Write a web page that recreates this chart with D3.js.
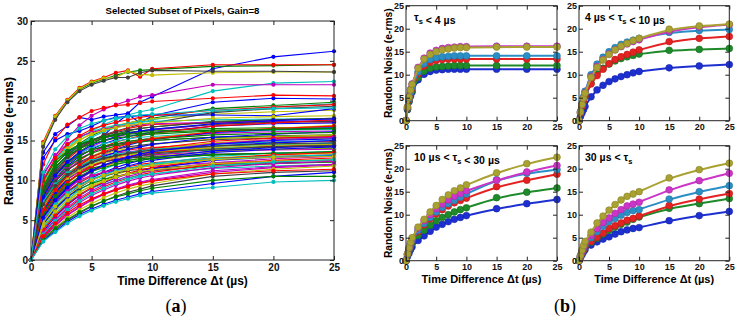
<!DOCTYPE html>
<html>
<head>
<meta charset="utf-8">
<script src="https://cdn.jsdelivr.net/npm/d3@7"></script>
<style>
  body { margin: 0; background: #fff; }
  svg { display: block; font-family: "Liberation Sans", Arial, sans-serif; }
</style>
</head>
<body>
<div class="canvas"></div>
<script>
// time steps (µs) for panel (a)
const tPixels = [0, 1, 2, 3, 4, 5, 6, 7, 8, 9, 10, 15, 20, 25];

// random noise per pixel, panel (a)
const pixelNoise = [
  [0, 13.5, 15.8, 16.8, 17.9, 17.6, 18.0, 18.2, 18.4, 19.8, 20.5, 24.0, 25.5, 26.2],
  [0, 14.5, 17.9, 20.0, 21.4, 22.2, 22.7, 23.2, 23.6, 23.8, 23.9, 24.3, 24.4, 24.5],
  [0, 14.8, 18.1, 20.1, 21.6, 22.4, 22.9, 23.5, 23.8, 23.0, 24.0, 24.5, 24.5, 24.5],
  [0, 10.2, 12.5, 14.0, 15.3, 16.2, 17.0, 17.6, 18.2, 18.6, 18.9, 21.2, 22.2, 22.4],
  [0, 10.8, 13.0, 15.2, 16.9, 18.1, 18.9, 19.5, 20.0, 20.5, 20.7, 22.0, 22.0, 22.0],
  [0, 14.6, 18.0, 20.0, 21.5, 22.3, 22.8, 22.9, 23.7, 23.3, 23.2, 23.5, 23.6, 23.6],
  [0, 14.2, 17.6, 19.8, 21.2, 22.0, 22.5, 22.9, 22.9, 23.5, 23.8, 23.7, 23.7, 23.6],
  [0, 9.5, 12.0, 13.5, 14.5, 15.0, 15.6, 17.1, 18.3, 17.2, 18.1, 19.8, 20.3, 20.2],
  [0, 9.0, 11.5, 13.2, 14.6, 15.6, 16.3, 16.8, 17.2, 17.5, 17.8, 19.0, 19.4, 19.8],
  [0, 12.0, 15.2, 17.0, 17.9, 18.7, 19.1, 19.4, 19.5, 19.7, 19.9, 20.3, 20.7, 20.6],
  [0, 8.8, 11.2, 13.0, 14.4, 15.4, 16.1, 16.6, 17.0, 17.3, 17.6, 18.6, 19.2, 19.6],
  [0, 7.8, 10.2, 12.0, 13.3, 14.2, 14.9, 15.4, 15.8, 16.1, 16.3, 17.0, 17.3, 17.5],
  [0, 8.9, 11.9, 13.8, 15.0, 15.9, 16.5, 16.9, 17.2, 17.5, 17.7, 18.3, 18.6, 18.8],
  [0, 8.5, 11.0, 12.8, 14.1, 15.0, 15.7, 16.2, 16.6, 17.0, 17.2, 18.5, 19.0, 19.3],
  [0, 12.8, 15.0, 15.8, 16.2, 16.8, 17.5, 17.9, 18.0, 18.1, 18.2, 18.2, 18.1, 19.0],
  [0, 8.0, 10.5, 12.3, 13.6, 14.6, 15.3, 15.8, 16.2, 16.5, 16.7, 17.4, 17.6, 17.8],
  [0, 8.2, 10.8, 12.6, 13.9, 14.9, 15.6, 16.1, 16.5, 16.8, 17.0, 17.2, 17.4, 17.3],
  [0, 9.8, 12.6, 14.3, 15.4, 16.1, 16.6, 16.9, 17.1, 17.3, 17.4, 17.6, 17.7, 17.7],
  [0, 10.5, 13.2, 14.6, 15.5, 16.0, 16.4, 16.7, 16.9, 17.0, 17.1, 17.3, 17.4, 17.4],
  [0, 9.4, 12.3, 14.0, 15.1, 15.8, 16.3, 16.6, 16.9, 17.1, 17.2, 17.8, 18.0, 18.1],
  [0, 8.6, 11.3, 12.9, 14.0, 14.8, 15.3, 15.7, 16.0, 16.2, 16.4, 17.0, 17.3, 17.4],
  [0, 7.5, 10.0, 11.8, 13.0, 13.9, 14.6, 15.1, 15.5, 15.8, 16.0, 16.8, 17.1, 17.2],
  [0, 9.2, 12.0, 13.6, 14.5, 15.1, 15.5, 15.8, 16.0, 16.1, 16.2, 16.5, 16.6, 16.7],
  [0, 6.8, 9.4, 11.2, 12.5, 13.5, 14.2, 14.8, 15.2, 15.6, 15.9, 16.8, 17.2, 17.6],
  [0, 8.0, 10.8, 12.4, 13.4, 14.1, 14.6, 14.9, 15.2, 15.4, 15.5, 16.0, 16.3, 16.4],
  [0, 7.2, 9.8, 11.5, 12.7, 13.5, 14.1, 14.5, 14.8, 15.1, 15.3, 15.9, 16.1, 16.2],
  [0, 6.4, 8.9, 10.7, 12.0, 13.0, 13.7, 14.3, 14.7, 15.0, 15.3, 16.1, 16.5, 16.9],
  [0, 8.3, 10.9, 12.3, 13.2, 13.8, 14.2, 14.5, 14.7, 14.9, 15.0, 15.4, 15.6, 15.7],
  [0, 5.9, 8.3, 10.1, 11.5, 12.5, 13.3, 13.9, 14.4, 14.8, 15.1, 16.0, 16.4, 16.6],
  [0, 7.7, 10.2, 11.7, 12.7, 13.4, 13.9, 14.3, 14.6, 14.8, 15.0, 15.4, 15.5, 15.6],
  [0, 7.0, 9.4, 10.9, 11.9, 12.6, 13.1, 13.5, 13.8, 14.0, 14.1, 14.6, 14.8, 14.9],
  [0, 6.2, 8.6, 10.2, 11.3, 12.1, 12.7, 13.1, 13.4, 13.7, 13.9, 14.5, 14.8, 15.0],
  [0, 7.9, 10.1, 11.4, 12.2, 12.8, 13.2, 13.4, 13.6, 13.7, 13.8, 14.1, 14.2, 14.3],
  [0, 5.6, 7.9, 9.6, 10.8, 11.7, 12.4, 12.9, 13.3, 13.6, 13.9, 14.7, 15.1, 15.3],
  [0, 6.7, 9.0, 10.5, 11.5, 12.2, 12.7, 13.0, 13.3, 13.5, 13.6, 14.0, 14.2, 14.3],
  [0, 5.2, 7.4, 9.0, 10.2, 11.1, 11.8, 12.3, 12.7, 13.1, 13.4, 14.3, 14.7, 15.0],
  [0, 7.4, 9.6, 10.9, 11.8, 12.4, 12.8, 13.1, 13.3, 13.4, 13.5, 13.8, 13.9, 14.0],
  [0, 6.0, 8.2, 9.8, 10.9, 11.7, 12.3, 12.7, 13.0, 13.3, 13.5, 14.0, 14.3, 14.5],
  [0, 4.8, 6.9, 8.5, 9.8, 10.7, 11.4, 12.0, 12.5, 12.8, 13.1, 14.0, 14.4, 14.7],
  [0, 6.5, 8.7, 10.1, 11.1, 11.8, 12.3, 12.6, 12.9, 13.1, 13.2, 13.6, 13.8, 13.9],
  [0, 5.4, 7.6, 9.2, 10.3, 11.1, 11.7, 12.2, 12.5, 12.8, 13.0, 13.6, 13.9, 14.1],
  [0, 7.1, 9.1, 10.4, 11.3, 11.9, 12.3, 12.6, 12.8, 12.9, 13.0, 13.3, 13.4, 13.5],
  [0, 4.5, 6.5, 8.1, 9.3, 10.3, 11.0, 11.6, 12.1, 12.5, 12.8, 13.7, 14.1, 14.4],
  [0, 6.3, 8.4, 9.8, 10.8, 11.5, 11.9, 12.3, 12.5, 12.7, 12.8, 13.2, 13.4, 13.5],
  [0, 5.0, 7.1, 8.6, 9.7, 10.5, 11.0, 11.4, 11.7, 12.0, 12.2, 12.8, 13.0, 13.2],
  [0, 4.2, 6.1, 7.6, 8.8, 9.7, 10.4, 11.0, 11.4, 11.8, 12.1, 13.0, 13.4, 13.6],
  [0, 5.8, 7.8, 9.1, 10.0, 10.6, 11.0, 11.3, 11.5, 11.7, 11.8, 12.2, 12.4, 12.5],
  [0, 3.9, 5.8, 7.3, 8.5, 9.4, 10.1, 10.7, 11.2, 11.6, 11.9, 12.8, 13.2, 13.4],
  [0, 5.3, 7.3, 8.6, 9.5, 10.1, 10.6, 10.9, 11.2, 11.4, 11.5, 12.0, 12.2, 12.3],
  [0, 3.6, 5.4, 6.9, 8.1, 9.0, 9.7, 10.3, 10.8, 11.2, 11.5, 12.5, 12.9, 13.1],
  [0, 4.6, 6.5, 7.9, 8.9, 9.6, 10.1, 10.5, 10.8, 11.0, 11.2, 11.8, 12.1, 12.3],
  [0, 3.3, 5.0, 6.4, 7.6, 8.5, 9.2, 9.8, 10.3, 10.7, 11.0, 12.0, 12.5, 12.8],
  [0, 4.0, 5.8, 7.2, 8.2, 9.0, 9.5, 10.0, 10.3, 10.6, 10.8, 11.5, 11.8, 12.0],
  [0, 3.1, 4.7, 6.1, 7.2, 8.1, 8.8, 9.4, 9.9, 10.3, 10.6, 11.6, 12.1, 12.4],
  [0, 6.9, 9.2, 10.8, 11.9, 12.7, 13.3, 13.7, 14.0, 14.3, 14.5, 15.2, 15.5, 15.7],
  [0, 7.6, 9.9, 11.3, 12.3, 13.0, 13.5, 13.9, 14.2, 14.4, 14.6, 15.1, 15.3, 15.4],
  [0, 6.1, 8.5, 10.2, 11.4, 12.3, 13.0, 13.5, 13.9, 14.2, 14.5, 15.4, 15.8, 16.1],
  [0, 8.1, 10.6, 12.1, 13.1, 13.8, 14.3, 14.6, 14.9, 15.1, 15.2, 15.7, 15.9, 16.0],
  [0, 5.7, 8.0, 9.7, 10.9, 11.8, 12.5, 13.0, 13.4, 13.8, 14.0, 14.9, 15.3, 15.5],
  [0, 7.3, 9.5, 10.9, 11.8, 12.5, 12.9, 13.3, 13.5, 13.7, 13.9, 14.3, 14.5, 14.6],
  [0, 4.9, 7.1, 8.8, 10.1, 11.1, 11.8, 12.4, 12.9, 13.3, 13.6, 14.6, 15.1, 15.4],
  [0, 6.6, 8.8, 10.3, 11.3, 12.0, 12.5, 12.9, 13.2, 13.4, 13.6, 14.1, 14.4, 14.5],
  [0, 5.5, 7.7, 9.3, 10.5, 11.3, 11.9, 12.4, 12.8, 13.1, 13.3, 13.9, 14.2, 14.4],
  [0, 4.4, 6.4, 7.9, 9.1, 10.0, 10.7, 11.3, 11.8, 12.2, 12.5, 13.5, 13.9, 14.2],
  [0, 6.0, 8.0, 9.4, 10.4, 11.1, 11.6, 12.0, 12.3, 12.5, 12.7, 13.2, 13.4, 13.6],
  [0, 3.8, 5.6, 7.0, 8.2, 9.1, 9.8, 10.4, 10.9, 11.3, 11.6, 12.7, 13.2, 13.5],
  [0, 5.1, 7.0, 8.4, 9.4, 10.2, 10.7, 11.2, 11.5, 11.8, 12.0, 12.7, 13.0, 13.2],
  [0, 3.4, 5.1, 6.6, 7.8, 8.7, 9.4, 10.0, 10.5, 10.9, 11.2, 12.2, 12.7, 13.0],
  [0, 4.3, 6.1, 7.5, 8.5, 9.3, 9.9, 10.4, 10.8, 11.1, 11.3, 12.1, 12.4, 12.6],
  [0, 8.8, 11.6, 13.2, 14.3, 15.0, 15.6, 16.0, 16.3, 16.5, 16.7, 17.3, 17.6, 17.8],
  [0, 7.9, 10.6, 12.3, 13.5, 14.4, 15.0, 15.5, 15.9, 16.2, 16.4, 17.1, 17.5, 17.7],
  [0, 9.9, 12.4, 13.7, 14.5, 15.0, 15.4, 15.6, 15.8, 15.9, 16.0, 16.3, 16.4, 16.5],
  [0, 6.3, 8.8, 10.6, 11.9, 12.9, 13.6, 14.1, 14.6, 14.9, 15.2, 16.1, 16.5, 16.8],
  [0, 3.2, 4.9, 6.3, 7.4, 8.3, 9.0, 9.6, 10.1, 10.5, 10.8, 11.8, 12.3, 12.6],
  [0, 2.8, 4.3, 5.6, 6.6, 7.5, 8.2, 8.8, 9.3, 9.7, 10.0, 11.0, 11.6, 11.9],
  [0, 4.7, 6.7, 8.1, 9.2, 10.0, 10.6, 11.0, 11.4, 11.7, 11.9, 12.6, 12.9, 13.0],
  [0, 7.0, 9.3, 10.7, 11.6, 12.3, 12.8, 13.1, 13.4, 13.6, 13.8, 14.3, 14.6, 14.7],
  [0, 5.3, 7.5, 9.1, 10.3, 11.2, 11.9, 12.5, 12.9, 13.3, 13.6, 14.5, 15.0, 15.2],
  [0, 9.1, 11.7, 13.1, 14.0, 14.6, 15.0, 15.3, 15.5, 15.7, 15.8, 16.2, 16.4, 16.5],
  [0, 10.0, 12.8, 14.5, 15.6, 16.4, 16.9, 17.3, 17.6, 17.9, 18.1, 18.8, 19.2, 19.5],
  [0, 11.0, 13.9, 15.5, 16.5, 17.1, 17.5, 17.8, 18.0, 18.2, 18.3, 18.8, 19.0, 19.1],
  [0, 2.9, 4.4, 5.7, 6.7, 7.6, 8.3, 8.9, 9.4, 9.8, 10.1, 11.2, 11.7, 12.0],
  [0, 2.6, 4.1, 5.3, 6.3, 7.1, 7.8, 8.4, 8.9, 9.3, 9.6, 10.8, 11.4, 11.8],
  [0, 2.5, 3.8, 5.0, 5.9, 6.7, 7.4, 8.0, 8.5, 8.9, 9.3, 10.5, 11.0, 11.2],
  [0, 2.4, 3.6, 4.8, 5.7, 6.4, 7.0, 7.5, 7.9, 8.3, 8.6, 9.6, 10.5, 11.0],
  [0, 2.7, 4.0, 5.1, 6.0, 6.8, 7.4, 7.9, 8.3, 8.7, 9.0, 10.0, 10.5, 10.5],
  [0, 3.0, 4.6, 5.9, 6.9, 7.7, 8.3, 8.8, 9.2, 9.6, 9.9, 10.8, 11.2, 11.4],
  [0, 2.3, 3.5, 4.6, 5.5, 6.2, 6.8, 7.3, 7.7, 8.1, 8.4, 9.1, 9.8, 10.0]
];

// time steps (µs) for panel (b)
const tGroups = [0, 0.25, 0.5, 0.75, 1, 2, 3, 4, 5, 6, 7, 8, 9, 10, 15, 20, 25];

// groups by settling time, series order: blue, green, red, cyan, magenta, olive
const tauUnder4 = [
  [0, 2.4, 4.1, 5.3, 6.2, 8.9, 10.1, 10.7, 11.0, 11.1, 11.2, 11.2, 11.2, 11.2, 11.2, 11.2, 11.2],
  [0, 2.5, 4.3, 5.6, 6.5, 9.4, 10.8, 11.4, 11.7, 11.8, 11.9, 12.0, 12.0, 12.0, 12.0, 12.0, 12.0],
  [0, 2.7, 4.6, 6.0, 7.0, 10.2, 11.9, 12.7, 13.1, 13.3, 13.4, 13.4, 13.4, 13.4, 13.4, 13.4, 13.4],
  [0, 2.8, 4.8, 6.2, 7.3, 10.6, 12.4, 13.3, 13.7, 13.9, 14.0, 14.1, 14.1, 14.1, 14.1, 14.1, 14.1],
  [0, 3.0, 5.2, 6.8, 8.0, 11.6, 13.6, 14.7, 15.3, 15.7, 15.9, 16.0, 16.1, 16.1, 16.2, 16.2, 16.2],
  [0, 3.0, 5.1, 6.7, 7.9, 11.4, 13.4, 14.4, 15.0, 15.4, 15.6, 15.8, 15.9, 15.9, 16.0, 16.0, 16.0]
];
const tau4to10 = [
  [0, 0.9, 1.7, 2.4, 3.1, 5.2, 6.7, 7.7, 8.5, 9.1, 9.6, 10.0, 10.4, 10.7, 11.5, 11.9, 12.2],
  [0, 1.6, 3.0, 4.2, 5.2, 8.2, 10.1, 11.4, 12.3, 13.0, 13.5, 13.9, 14.2, 14.5, 15.3, 15.5, 15.7],
  [0, 1.7, 3.1, 4.3, 5.3, 8.0, 9.8, 11.2, 12.4, 13.3, 13.9, 14.4, 14.9, 15.4, 17.2, 17.9, 18.3],
  [0, 2.0, 3.7, 5.2, 6.4, 10.0, 12.3, 13.8, 15.0, 15.9, 16.6, 17.1, 17.5, 17.9, 19.2, 19.6, 19.8],
  [0, 1.9, 3.5, 4.9, 6.1, 9.6, 11.8, 13.3, 14.5, 15.4, 16.1, 16.7, 17.2, 17.6, 19.5, 20.4, 20.9],
  [0, 1.9, 3.5, 4.9, 6.0, 9.4, 11.6, 13.2, 14.4, 15.4, 16.2, 16.8, 17.4, 17.9, 19.9, 20.6, 21.0]
];
const tau10to30 = [
  [0, 0.9, 1.6, 2.4, 3.0, 4.4, 5.4, 6.4, 7.3, 7.9, 8.5, 9.0, 9.4, 9.8, 11.3, 12.4, 13.3],
  [0, 1.2, 2.2, 3.1, 3.9, 5.5, 6.6, 7.7, 8.7, 9.4, 10.0, 10.6, 11.1, 11.5, 13.7, 14.9, 15.8],
  [0, 1.4, 2.6, 3.6, 4.4, 6.3, 7.8, 9.1, 10.2, 11.1, 11.9, 12.6, 13.1, 13.6, 16.1, 17.5, 18.8],
  [0, 1.4, 2.6, 3.6, 4.5, 6.6, 8.1, 9.4, 10.6, 11.6, 12.4, 13.1, 13.8, 14.5, 17.6, 19.0, 19.8],
  [0, 1.5, 2.7, 3.8, 4.8, 7.1, 8.7, 10.0, 11.3, 12.3, 13.2, 14.0, 14.6, 15.2, 17.5, 19.3, 20.7],
  [0, 1.5, 2.8, 4.0, 5.0, 7.3, 9.0, 10.6, 12.0, 13.3, 14.3, 15.2, 15.8, 16.5, 19.1, 21.1, 22.5]
];
const tauOver30 = [
  [0, 0.7, 1.3, 1.9, 2.4, 3.4, 4.1, 4.7, 5.2, 5.8, 6.3, 6.7, 7.0, 7.2, 8.7, 9.8, 10.7],
  [0, 0.9, 1.6, 2.3, 2.9, 4.0, 4.9, 5.8, 6.6, 7.3, 7.9, 8.4, 9.0, 9.5, 11.4, 12.4, 13.5],
  [0, 0.9, 1.7, 2.4, 3.1, 4.2, 5.1, 6.0, 7.0, 7.6, 8.2, 8.8, 9.2, 9.7, 12.0, 13.4, 14.6],
  [0, 1.0, 1.9, 2.7, 3.4, 5.0, 6.3, 7.5, 8.5, 9.2, 9.9, 10.5, 10.9, 11.1, 13.4, 15.0, 16.3],
  [0, 1.1, 2.0, 2.9, 3.7, 5.5, 7.0, 8.3, 9.3, 10.3, 11.1, 11.9, 12.3, 12.7, 15.4, 17.4, 19.0],
  [0, 1.2, 2.3, 3.3, 4.2, 6.2, 8.2, 9.7, 11.0, 12.2, 13.2, 14.0, 14.5, 15.0, 18.0, 19.8, 21.2]
];

const xTicks = [0, 5, 10, 15, 20, 25];
const yTicksA = [0, 5, 10, 15, 20, 25, 30];
const yTicksB = [0, 5, 10, 15, 20, 25];

const lineColors = ['#0000ff', '#008000', '#ff0000', '#00bfbf', '#bf00bf', '#bfbf00', '#404040'];
const groupColors = ['#1d2fd0', '#1e8a2a', '#e42222', '#2b8fc6', '#cc35c8', '#a9a232'];

const svg = d3.select('.canvas').append('svg')
  .attr('width', 738)
  .attr('height', 319);

// box with inward ticks on all four sides, MATLAB style
function drawFrame(g, x, y, xt, yt, fs, pad) {
  const [x0, x1] = x.range();
  const [y0, y1] = y.range();
  const tick = 4;
  g.append('g').attr('transform', `translate(0,${y0})`)
    .call(d3.axisBottom(x).tickValues(xt).tickSize(-tick).tickPadding(pad.x))
  g.append('g').attr('transform', `translate(0,${y1})`)
    .call(d3.axisTop(x).tickValues(xt).tickSize(-tick).tickFormat(''))
  g.append('g').attr('transform', `translate(${x0},0)`)
    .call(d3.axisLeft(y).tickValues(yt).tickSize(-tick).tickPadding(pad.y))
  g.append('g').attr('transform', `translate(${x1},0)`)
    .call(d3.axisRight(y).tickValues(yt).tickSize(-tick).tickFormat(''))
  g.selectAll('.domain').remove()
  g.selectAll('.tick line').attr('stroke', '#222')
  g.selectAll('.tick text')
    .attr('font-size', fs)
    .attr('font-weight', 'bold')
    .attr('font-family', '"Liberation Sans", Arial, sans-serif')
    .attr('fill', '#111')
  g.append('rect')
    .attr('x', x0).attr('y', y1)
    .attr('width', x1 - x0).attr('height', y0 - y1)
    .attr('fill', 'none')
    .attr('stroke', '#222')
    .attr('stroke-width', 1)
}

// ---------- panel (a) ----------
const xa = d3.scaleLinear().domain([0, 25]).range([31, 334]);
const ya = d3.scaleLinear().domain([0, 30]).range([260, 21]);

const panelA = svg.append('g');
const lineA = d3.line().x((d, i) => xa(tPixels[i])).y(d => ya(d));

const seriesA = panelA.selectAll('.pix')
  .data(pixelNoise)
  .enter()
  .append('g')
  .attr('class', 'pix')
  .attr('fill', (d, i) => lineColors[i % lineColors.length])
  .attr('stroke', (d, i) => lineColors[i % lineColors.length]);

seriesA.append('path')
  .attr('d', lineA)
  .attr('fill', 'none')
  .attr('stroke-width', 1.1);

seriesA.selectAll('circle')
  .data(d => d)
  .enter()
  .append('circle')
  .attr('cx', (d, i) => xa(tPixels[i]))
  .attr('cy', d => ya(d))
  .attr('r', 2.1)
  .attr('stroke', 'none');

drawFrame(panelA, xa, ya, xTicks, yTicksA, 10, {x: 4, y: 3});

panelA.append('text')
  .attr('x', 182.5).attr('y', 13.5)
  .attr('text-anchor', 'middle')
  .attr('font-size', 9.6).attr('font-weight', 'bold')
  .text('Selected Subset of Pixels, Gain=8');

panelA.append('text')
  .attr('transform', 'translate(12.5,141) rotate(-90)')
  .attr('text-anchor', 'middle')
  .attr('font-size', 12).attr('font-weight', 'bold')
  .text('Random Noise (e-rms)');

panelA.append('text')
  .attr('x', 182.5).attr('y', 284.5)
  .attr('text-anchor', 'middle')
  .attr('font-size', 12).attr('font-weight', 'bold')
  .text('Time Difference \u0394t (\u00b5s)');

const capA = panelA.append('text')
  .attr('x', 176).attr('y', 312)
  .attr('text-anchor', 'middle')
  .attr('font-family', '"Liberation Serif", "Times New Roman", serif')
  .attr('font-size', 18);
capA.append('tspan').text('(');
capA.append('tspan').attr('font-weight', 'bold').text('a');
capA.append('tspan').text(')');

// ---------- panel (b) ----------
const groups = [
  {data: tauUnder4, x: [406, 557], y: [120.7, 5.7], label: [['', ''], ['\u03c4', 's'], [' < 4 \u00b5s', '']]},
  {data: tau4to10, x: [579, 729.3], y: [120.7, 5.7], label: [['4 \u00b5s < ', ''], ['\u03c4', 's'], [' < 10 \u00b5s', '']]},
  {data: tau10to30, x: [406, 557], y: [260.7, 145.7], label: [['10 \u00b5s < ', ''], ['\u03c4', 's'], [' < 30 \u00b5s', '']]},
  {data: tauOver30, x: [579, 729.3], y: [260.7, 145.7], label: [['30 \u00b5s < ', ''], ['\u03c4', 's'], ['', '']]}
];

groups.forEach((grp, gi) => {
  const x = d3.scaleLinear().domain([0, 25]).range(grp.x);
  const y = d3.scaleLinear().domain([0, 25]).range(grp.y);
  const g = svg.append('g');

  const line = d3.line()
    .x((d, i) => x(tGroups[i]))
    .y(d => y(d))
    .curve(d3.curveBasis);

  const series = g.selectAll('.grp')
    .data(grp.data)
    .enter()
    .append('g')
    .attr('class', 'grp');

  series.append('path')
    .attr('d', line)
    .attr('fill', 'none')
    .attr('stroke', (d, i) => groupColors[i])
    .attr('stroke-width', 2);

  series.each(function(d, si) {
    d3.select(this).selectAll('circle')
      .data(d)
      .enter()
      .append('circle')
      .attr('cx', (v, i) => x(tGroups[i]))
      .attr('cy', v => y(v))
      .attr('r', 3.4)
      .attr('fill', groupColors[si])
      .attr('stroke', d3.color(groupColors[si]).darker(0.6))
      .attr('stroke-width', 0.6);
  });

  drawFrame(g, x, y, xTicks, yTicksB, 9, {x: 3, y: 2});

  // range label with subscript
  const lbl = g.append('text')
    .attr('x', grp.x[0] + (gi % 2 === 0 ? 8 : 6))
    .attr('y', grp.y[1] + 15.5)
    .attr('font-size', 10.5).attr('font-weight', 'bold');
  grp.label.forEach(([main, sub]) => {
    if (main) lbl.append('tspan').text(main);
    if (sub) lbl.append('tspan').attr('font-size', 7.5).attr('dy', 2.5).text(sub)
      .clone(true).text('').attr('dy', -2.5);
  });

  if (gi % 2 === 0) {
    g.append('text')
      .attr('transform', `translate(391.5,${(grp.y[0] + grp.y[1]) / 2}) rotate(-90)`)
      .attr('text-anchor', 'middle')
      .attr('font-size', 10.3).attr('font-weight', 'bold')
      .text('Random Noise (e-rms)');
  }
  if (gi >= 2) {
    g.append('text')
      .attr('x', (grp.x[0] + grp.x[1]) / 2).attr('y', 282.5)
      .attr('text-anchor', 'middle')
      .attr('font-size', 11).attr('font-weight', 'bold')
      .text('Time Difference \u0394t (\u00b5s)');
  }
});

const capB = svg.append('text')
  .attr('x', 565).attr('y', 312)
  .attr('text-anchor', 'middle')
  .attr('font-family', '"Liberation Serif", "Times New Roman", serif')
  .attr('font-size', 18);
capB.append('tspan').text('(');
capB.append('tspan').attr('font-weight', 'bold').text('b');
capB.append('tspan').text(')');
</script>
</body>
</html>
